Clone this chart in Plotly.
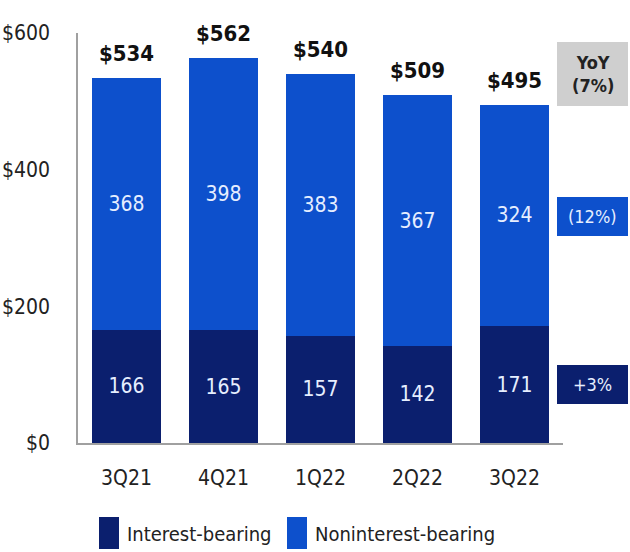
import plotly.graph_objects as go

# deposits by quarter ($B)
quarters = ["3Q21", "4Q21", "1Q22", "2Q22", "3Q22"]
interest_bearing = [166, 165, 157, 142, 171]
noninterest_bearing = [368, 398, 383, 367, 324]
totals = [534, 562, 540, 509, 495]

yoy_total = "(7%)"
yoy_nonint = "(12%)"
yoy_int = "+3%"

navy = "#0b1f6e"
blue = "#0d50cc"
font = "DejaVu Sans Condensed, Roboto, sans-serif"

fig = go.Figure()
fig.add_trace(go.Bar(
    x=quarters, y=interest_bearing, name="Interest-bearing",
    marker=dict(color=navy, line=dict(width=0)),
    text=interest_bearing, textposition="inside", insidetextanchor="middle",
    textfont=dict(color="#e6eeff", size=21, family=font),
))
fig.add_trace(go.Bar(
    x=quarters, y=noninterest_bearing, name="Noninterest-bearing",
    marker=dict(color=blue, line=dict(width=0)),
    text=noninterest_bearing, textposition="inside", insidetextanchor="middle",
    textfont=dict(color="#e6eeff", size=21, family=font),
))

# totals above bars
for q, ib, nb, t in zip(quarters, interest_bearing, noninterest_bearing, totals):
    fig.add_annotation(x=q, y=ib + nb, text="<b>$%d</b>" % t, showarrow=False,
                       yanchor="bottom", yshift=10,
                       font=dict(size=22, color="#111111", family=font))

# YoY boxes on the right
def px_x(p):
    return (p - 78) / 485

fig.add_shape(type="rect", xref="paper", yref="y", x0=px_x(557), x1=px_x(628),
              y0=(443 - 106) / 0.6833, y1=(443 - 42) / 0.6833,
              fillcolor="#cfcfcf", line=dict(width=0), layer="below")
fig.add_annotation(xref="paper", yref="y", x=px_x(592.5), y=(443 - 74) / 0.6833,
                   xanchor="center", yanchor="middle",
                   text="<b>YoY</b><br><b>%s</b>" % yoy_total, showarrow=False,
                   font=dict(size=18, color="#222222", family=font))
fig.add_shape(type="rect", xref="paper", yref="y", x0=px_x(557), x1=px_x(628),
              y0=(443 - 236) / 0.6833, y1=(443 - 197) / 0.6833,
              fillcolor=blue, line=dict(width=0))
fig.add_annotation(xref="paper", yref="y", x=px_x(592.5), y=(443 - 216.5) / 0.6833,
                   xanchor="center", yanchor="middle",
                   text=yoy_nonint, showarrow=False,
                   font=dict(size=18, color="#e6eeff", family=font))
fig.add_shape(type="rect", xref="paper", yref="y", x0=px_x(557), x1=px_x(628),
              y0=(443 - 404) / 0.6833, y1=(443 - 365) / 0.6833,
              fillcolor=navy, line=dict(width=0))
fig.add_annotation(xref="paper", yref="y", x=px_x(592.5), y=(443 - 384.5) / 0.6833,
                   xanchor="center", yanchor="middle",
                   text=yoy_int, showarrow=False,
                   font=dict(size=18, color="#e6eeff", family=font))

# legend drawn by hand (tall swatches)
legend_items = [("Interest-bearing", navy, 99), ("Noninterest-bearing", blue, 287)]
for label, col, x0 in legend_items:
    fig.add_shape(type="rect", xref="paper", yref="paper",
                  x0=px_x(x0), x1=px_x(x0 + 20),
                  y0=(443 - 549) / 410, y1=(443 - 517) / 410,
                  fillcolor=col, line=dict(width=0))
    fig.add_annotation(xref="paper", yref="paper", x=px_x(x0 + 26), y=(443 - 534) / 410,
                       text=label, showarrow=False, xanchor="left", yanchor="middle",
                       font=dict(size=20, color="#222222", family=font))

fig.update_layout(
    barmode="stack",
    bargap=0.28,
    width=630, height=552,
    margin=dict(l=78, r=67, t=33, b=109),
    plot_bgcolor="white", paper_bgcolor="white",
    showlegend=False,
    font=dict(family=font, color="#222222"),
    uniformtext=dict(minsize=10, mode="show"),
)
fig.update_xaxes(showline=True, linecolor="#a0a0a0", linewidth=1.5, ticks="",
                 automargin=False, ticklabelstandoff=15,
                 tickfont=dict(size=21, color="#222222"), range=[-0.5, 4.5])
fig.update_yaxes(range=[0, 600], tickvals=[0, 200, 400, 600],
                 ticktext=["$0", "$200", "$400", "$600"],
                 showgrid=False, zeroline=False, showline=True,
                 linecolor="#a0a0a0", linewidth=1.5, ticks="",
                 ticklabelstandoff=22, automargin=False,
                 tickfont=dict(size=21, color="#222222"))

fig.write_html("out.html", config={"displayModeBar": False},
               post_script="document.body.style.margin='0';")
